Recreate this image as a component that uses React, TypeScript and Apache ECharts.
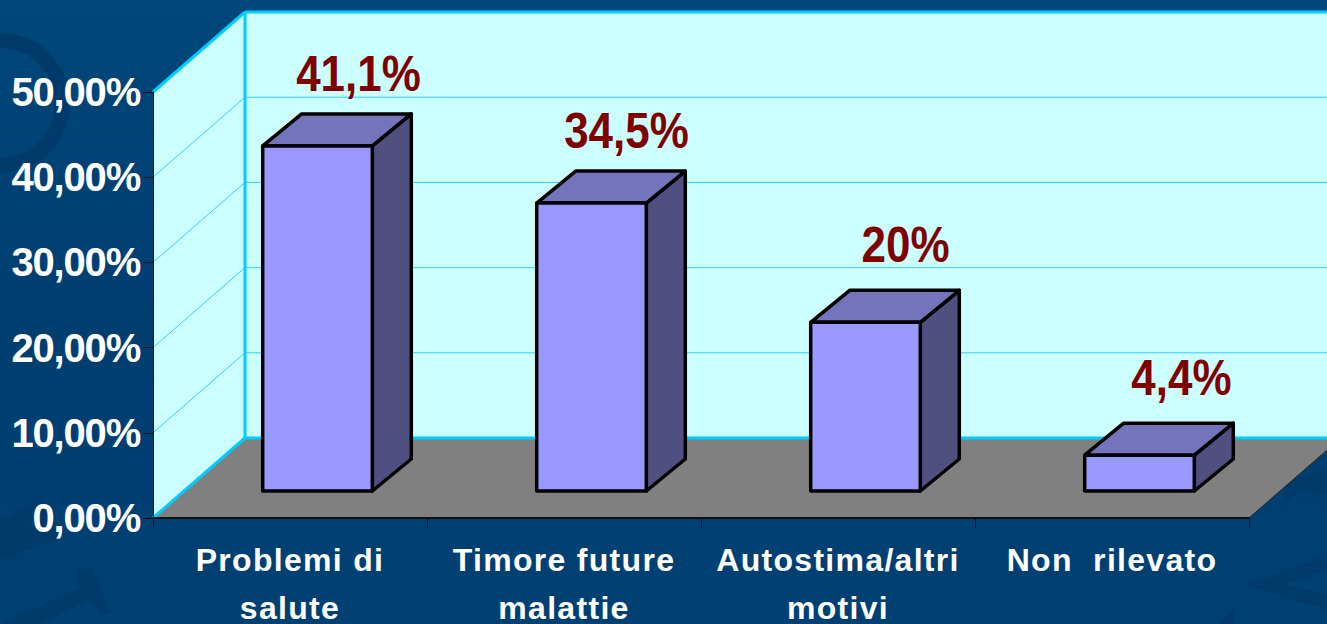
import React, { useEffect, useRef } from "react";
import * as echarts from "echarts";

const categories = ["Problemi di\nsalute", "Timore future\nmalattie", "Autostima/altri\nmotivi", "Non  rilevato"];
// Bar heights as they read against the picture's axis; the printed labels are listed separately.
const barValues = [40.5, 33.8, 19.8, 4.2];
const barLabels = ["41,1%", "34,5%", "20%", "4,4%"];
const yTicks = [0, 10, 20, 30, 40, 50];

const FONT = '"Liberation Sans", Arial, sans-serif';
const WALL = "#ccffff";
const EDGE = "#00ccff";
const GRID = "#33ccff";
const WALL_DX = 92;
const WALL_DY = 80;
const LABEL_SHIFT_X = [41, 35, 40, 42];
const LABEL_GAP_Y = [40, 40, 45, 45];

const wallItem = (params: any, api: any) => {
  const cs = params.coordSys;
  const l = cs.x, r = cs.x + cs.width, t = cs.y, b = cs.y + cs.height;
  const line = (x1: number, y1: number, x2: number, y2: number, stroke: string, lineWidth: number) => ({
    type: "line", shape: { x1, y1, x2, y2 }, style: { stroke, lineWidth },
  });
  const children: any[] = [
    { type: "polygon", shape: { points: [[l, b], [l + WALL_DX, b - WALL_DY], [l + WALL_DX, t - WALL_DY], [l, t]] }, style: { fill: WALL } },
    { type: "polygon", shape: { points: [[l + WALL_DX, b - WALL_DY], [r + WALL_DX, b - WALL_DY], [r + WALL_DX, t - WALL_DY], [l + WALL_DX, t - WALL_DY]] }, style: { fill: WALL } },
    { type: "polygon", shape: { points: [[l, b], [r, b], [r + WALL_DX, b - WALL_DY], [l + WALL_DX, b - WALL_DY]] }, style: { fill: "#808080" } },
  ];
  yTicks.slice(1, -1).forEach((v) => {
    const y = api.coord([0, v])[1];
    children.push(line(l, y, l + WALL_DX, y - WALL_DY, GRID, 1));
    children.push(line(l + WALL_DX, y - WALL_DY, r + WALL_DX, y - WALL_DY, GRID, 1));
  });
  children.push(line(l, t, l + WALL_DX, t - WALL_DY, EDGE, 3));
  children.push(line(l + WALL_DX, t - WALL_DY, r + WALL_DX, t - WALL_DY, EDGE, 3));
  children.push(line(l + WALL_DX, t - WALL_DY, l + WALL_DX, b - WALL_DY, EDGE, 3));
  children.push(line(l, b, l + WALL_DX, b - WALL_DY, EDGE, 3));
  children.push(line(l + WALL_DX, b - WALL_DY, r + WALL_DX, b - WALL_DY, EDGE, 3));
  children.push(line(r, b, r + WALL_DX, b - WALL_DY, "#222222", 1));
  return { type: "group", children };
};

const barItem = (params: any, api: any) => {
  const zero = api.coord([api.value(0), 0]);
  const val = api.coord([api.value(0), api.value(1)]);
  const w = api.size([1, 0])[0] * 0.4;
  const sx = 27.5, sy = 27, dx = 39, dy = 32;
  const x0 = zero[0] + sx - w / 2, x1 = x0 + w;
  const yb = zero[1] - sy, yt = val[1] - sy;
  const border = { stroke: "#000000", lineWidth: 3.5, lineJoin: "round" };
  return {
    type: "group",
    children: [
      { type: "polygon", shape: { points: [[x1, yt], [x1 + dx, yt - dy], [x1 + dx, yb - dy], [x1, yb]] }, style: { fill: "#4f4f80", ...border } },
      { type: "polygon", shape: { points: [[x0, yt], [x0 + dx, yt - dy], [x1 + dx, yt - dy], [x1, yt]] }, style: { fill: "#7474bd", ...border } },
      { type: "rect", shape: { x: x0, y: yt, width: w, height: yb - yt }, style: { fill: "#9999ff", ...border } },
      {
        type: "text",
        x: zero[0] + sx + LABEL_SHIFT_X[params.dataIndex],
        y: yt - dy - LABEL_GAP_Y[params.dataIndex],
        scaleY: 1.12,
        style: {
          x: 0, y: 0,
          text: barLabels[params.dataIndex],
          fill: "#800000", font: `bold 44px ${FONT}`, align: "center", verticalAlign: "middle",
        },
      },
    ],
  };
};

const motif = "#003a6b";
const backdrop = [
  { type: "ring", shape: { cx: 0, cy: 103, r: 70, r0: 55 }, style: { fill: motif } },
  { type: "polygon", shape: { points: [[0, 520], [43, 497], [62, 537], [0, 560]] }, style: { fill: motif } },
  { type: "polygon", shape: { points: [[0, 624], [80, 588], [78, 570], [92, 568], [110, 612], [100, 616], [90, 600], [40, 624]] }, style: { fill: motif } },
  { type: "polygon", shape: { points: [[1327, 555], [1247, 585], [1327, 610], [1327, 595], [1285, 585], [1327, 570]] }, style: { fill: motif } },
  { type: "polygon", shape: { points: [[1327, 470], [1290, 480], [1282, 505], [1300, 490], [1327, 495]] }, style: { fill: motif } },
  { type: "polygon", shape: { points: [[1220, 624], [1235, 606], [1234, 624]] }, style: { fill: motif } },
];

export default function App() {
  const ref = useRef<HTMLDivElement>(null);
  useEffect(() => {
    const chart = echarts.init(ref.current!, undefined, { renderer: "svg" });
    chart.setOption({
      animation: false,
      backgroundColor: {
        type: "linear", x: 0, y: 0, x2: 0, y2: 1,
        colorStops: [{ offset: 0, color: "#00477a" }, { offset: 0.5, color: "#003e70" }, { offset: 1, color: "#004072" }],
      },
      graphic: backdrop.map((g) => ({ ...g, z: -1 })),
      grid: { left: 153, top: 92, width: 1096, height: 426, outerBoundsMode: "none", containLabel: false },
      xAxis: {
        type: "category",
        data: categories,
        z: 5,
        axisLine: { lineStyle: { color: "#111111", width: 2 } },
        axisTick: { show: true, length: 10, lineStyle: { color: "#111111", width: 1 } },
        axisLabel: { color: "#ffffff", fontFamily: FONT, fontWeight: "bold", fontSize: 32, lineHeight: 48, margin: 18, interval: 0, hideOverlap: false },
      },
      yAxis: {
        type: "value",
        min: 0,
        max: 50,
        interval: 10,
        z: 5,
        splitLine: { show: false },
        axisLine: { show: true, lineStyle: { color: "#111111", width: 1 } },
        axisTick: { show: true, length: 10, lineStyle: { color: "#111111", width: 1 } },
        axisLabel: {
          color: "#ffffff", fontFamily: FONT, fontWeight: "bold", fontSize: 40, margin: 13,
          formatter: (v: number) => `${v},00%`,
        },
      },
      series: [
        { type: "custom", z: 1, renderItem: wallItem, data: [[0, 0]], silent: true },
        { type: "custom", z: 2, renderItem: barItem, data: barValues.map((v, i) => [i, v]), silent: true },
      ],
    });
    return () => chart.dispose();
  }, []);
  return (
    <>
      <style>{`text[style*="32px"]{letter-spacing:1.3px}text[style*="40px"]{letter-spacing:-1.2px}`}</style>
      <div ref={ref} style={{ position: "fixed", left: 0, top: 0, width: 1327, height: 624 }} />
    </>
  );
}
